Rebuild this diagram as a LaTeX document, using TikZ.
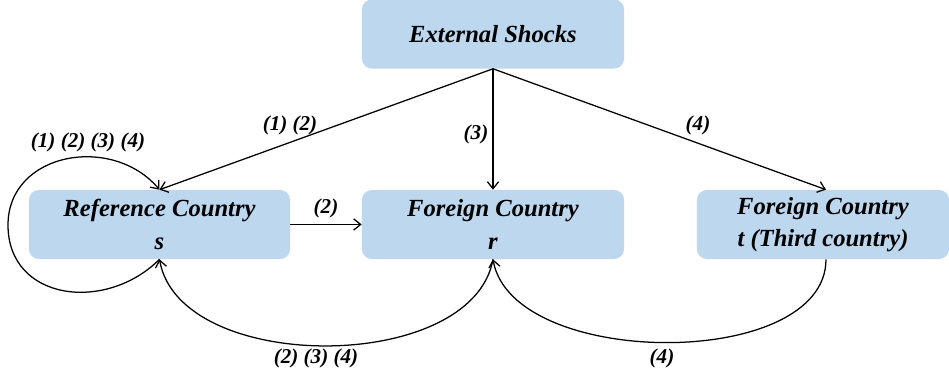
\documentclass[tikz,border=0pt]{standalone}
\usepackage{fontspec}
\setmainfont{Liberation Serif}
\usetikzlibrary{calc,arrows.meta}
\definecolor{boxblue}{HTML}{BDD7EE}
\tikzset{
  box/.style={fill=boxblue,rounded corners=7pt,minimum height=1.725cm,align=center,
    inner sep=0pt,font=\fontsize{17.5}{23}\selectfont\bfseries\itshape},
  lbl/.style={inner sep=0pt,font=\fontsize{15}{17}\selectfont\bfseries\itshape},
  link/.style={-{Straight Barb[length=5pt,width=8pt]},line width=0.9pt}
}

\begin{document}
\begin{tikzpicture}[x=0.025cm,y=0.025cm]
      \useasboundingbox(0,0)rectangle(949,376);
      \node[box,minimum width=6.55cm](ext)at(493,342){External Shocks};
      \node[box,minimum width=6.525cm](ref)at(159.5,151.5){Reference Country\\s};
      \node[box,minimum width=6.55cm](for)at(493,151.5){Foreign Country\\r};
      \node[box,minimum width=6.3cm](thd)at(823,151.5){Foreign Country\\t (Third country)};
      \coordinate(loopw)at(8,151);
      % shocks
      \draw[link](ext.south)--(ref.north);
      \draw[link](ext.south)--(for.north);
      \draw[link](ext.south)--($(thd.north)+(3,0)$);
      \draw[link](ref.east)--(for.west);
      % feedback
      \draw[link](ref.south)to[out=225,in=-90,looseness=1.25](loopw)to[out=90,in=130,looseness=1.2](ref.north);
      \draw[link,{Straight Barb[length=5pt,width=8pt]}-](ref.south)to[out=-80,in=-100,looseness=0.9](for.south);
      \draw[link]($(thd.south)+(3,0)$)to[out=-90,in=-80,looseness=0.86](for.south);
      % labels
      \node[lbl](l12)at(290,251){(1) (2)};
      \node[lbl](l1234)at(88,234){(1) (2) (3) (4)};
      \node[lbl](l3)at(476,242){(3)};
      \node[lbl](l4a)at(698,251){(4)};
      \node[lbl](l2)at(326,168){(2)};
      \node[lbl](l234)at(316,18){(2) (3) (4)};
      \node[lbl](l4b)at(662,18){(4)};
    \end{tikzpicture}
\end{document}
